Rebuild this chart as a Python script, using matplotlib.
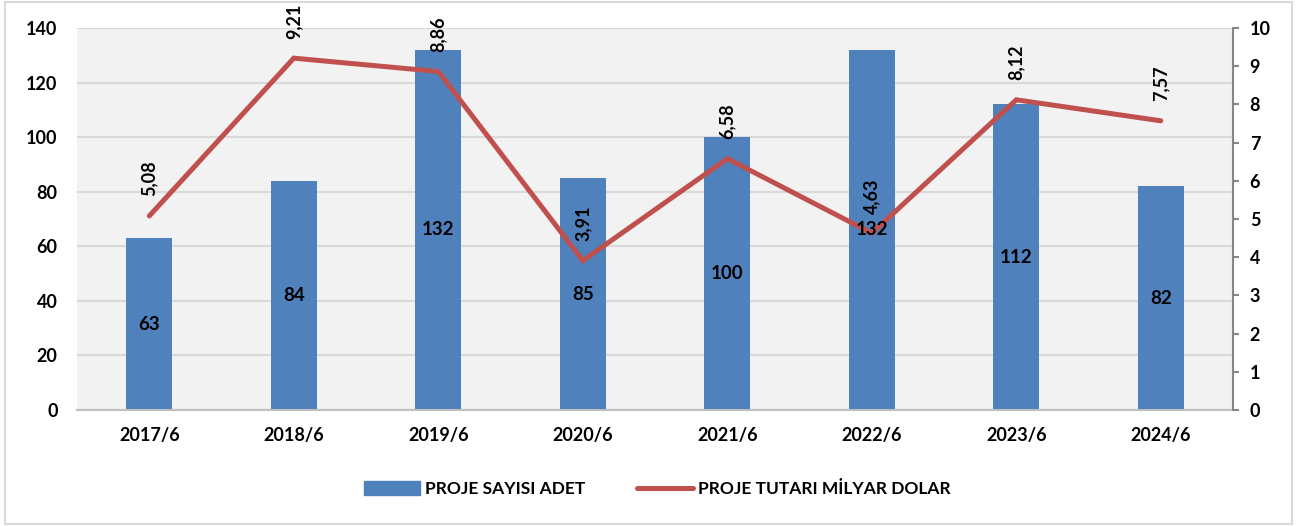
import matplotlib

matplotlib.use("Agg")
import matplotlib.pyplot as plt
from matplotlib.patches import Rectangle
from matplotlib.lines import Line2D
import numpy as np

plt.rcParams["font.family"] = ["Lato", "DejaVu Sans"]
plt.rcParams["font.weight"] = "bold"

periods = ["2017/6", "2018/6", "2019/6", "2020/6", "2021/6", "2022/6", "2023/6", "2024/6"]
project_count = [63, 84, 132, 85, 100, 132, 112, 82]
project_value = [5.08, 9.21, 8.86, 3.91, 6.58, 4.63, 8.12, 7.57]

bar_color = "#4F81BD"
line_color = "#C0504D"
grid_color = "#D9D9D9"

fig = plt.figure(figsize=(12.97, 5.26), dpi=100)
fig.patches.append(Rectangle((0.004, 0.004), 0.992, 0.992, transform=fig.transFigure,
                             fill=False, edgecolor="#D9D9D9", linewidth=1.5))

ax = fig.add_axes([0.0594, 0.2205, 0.8913, 0.7263])
ax.set_facecolor("#F2F2F2")
x = np.arange(len(periods))

ax.bar(x, project_count, width=0.32, color=bar_color, zorder=2)

ax.set_xlim(-0.5, len(periods) - 0.5)
ax.set_ylim(0, 140)
ax.set_yticks(range(0, 141, 20))
ax.set_xticks(x)
ax.set_xticklabels(periods)
ax.grid(axis="y", color=grid_color, linewidth=1.5, zorder=0)
ax.set_axisbelow(True)
for side in ["left", "top", "right"]:
    ax.spines[side].set_visible(False)
ax.spines["bottom"].set_color("#BFBFBF")
ax.spines["bottom"].set_linewidth(1.5)
ax.tick_params(axis="y", length=0, pad=14, labelsize=13)
ax.tick_params(axis="x", length=0, pad=12, labelsize=13)

ax2 = ax.twinx()
ax2.plot(x, project_value, color=line_color, linewidth=3.6, solid_capstyle="round",
         solid_joinstyle="miter", zorder=3)
for xi, v in zip(x, project_value):
    ax2.annotate(f"{v:.2f}".replace(".", ","), (xi, v), xytext=(0, 14),
                 textcoords="offset points", rotation=90, ha="center", va="bottom",
                 fontsize=13, fontweight="bold", color="black", zorder=5)
# bar labels sit on top of the line, as in the original
for xi, v in zip(x, project_count):
    ax2.text(xi, v / 2, str(v), transform=ax.transData, ha="center", va="center",
             fontsize=13.5, fontweight="bold", color="black", zorder=5)
ax2.set_ylim(0, 10)
ax2.set_yticks(range(0, 11))
for side in ["left", "top", "bottom"]:
    ax2.spines[side].set_visible(False)
ax2.spines["right"].set_color("#868686")
ax2.spines["right"].set_linewidth(1.5)
ax2.tick_params(axis="y", length=4, width=1.5, color="#868686", pad=8, labelsize=13)

handles = [Rectangle((0, 0), 1, 1, color=bar_color),
           Line2D([], [], color=line_color, linewidth=3.6, solid_capstyle="round")]
fig.legend(handles, ["PROJE SAYISI ADET", "PROJE TUTARI MİLYAR DOLAR"],
           loc="center", bbox_to_anchor=(0.507, 0.07), ncol=2, frameon=False,
           fontsize=12.5, handlelength=3.2, handleheight=0.9, handletextpad=0.3,
           columnspacing=3.0)

fig.savefig("out.png", dpi=100)
